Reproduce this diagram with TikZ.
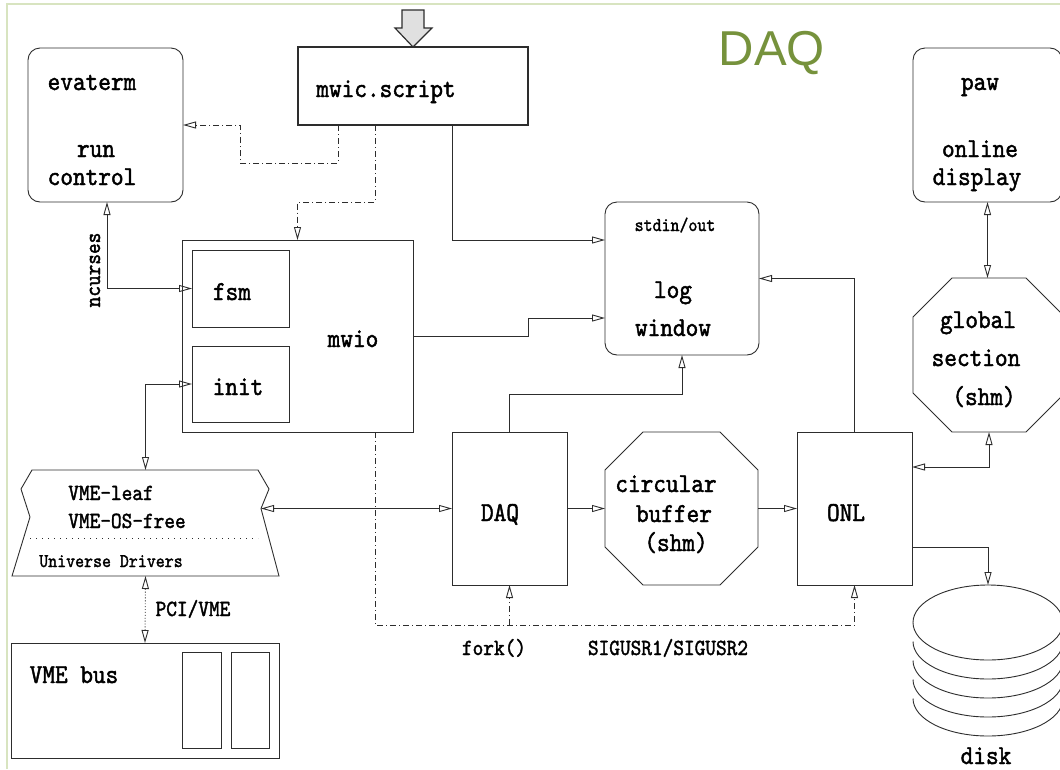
\documentclass[tikz,border=0pt]{standalone}
\usepackage{fontspec}
\newfontfamily\figfont[FakeStretch=0.88,FakeBold=1.6]{lmmono10-regular.otf}
\newfontfamily\headfont{Liberation Sans}
\usetikzlibrary{arrows.meta,positioning,shapes.geometric}
\definecolor{frameline}{RGB}{216,228,192}
\definecolor{olive}{RGB}{118,146,60}
\definecolor{wire}{RGB}{45,45,45}
\tikzset{
  >={Triangle[open,length=13pt,width=7pt]},
  line/.style={draw=wire,line width=0.9pt},
  blk/.style={line,outer sep=0pt,inner sep=0pt},
  rblk/.style={blk,rounded corners=12pt},
  hidden/.style={outer sep=0pt,inner sep=0pt},
  txt/.style={font=\figfont\fontsize{27.4}{29}\selectfont,inner sep=0pt,anchor=base},
  midtxt/.style={txt,font=\figfont\fontsize{23.1}{25}\selectfont},
  smltxt/.style={txt,font=\figfont\fontsize{19.4}{21}\selectfont},
  flow/.style={line,->},
  both/.style={line,<->},
  sig/.style={line,->,dash pattern=on 6pt off 3pt on 1pt off 3pt},
}
% octagon drawn round a hidden node: #1 node, #2 corner cut
\newcommand{\octa}[2]{%
  \draw[line] ([xshift=#2]#1.north west) -- ([xshift=-#2]#1.north east)
    -- ([yshift=-#2]#1.north east) -- ([yshift=#2]#1.south east)
    -- ([xshift=-#2]#1.south east) -- ([xshift=#2]#1.south west)
    -- ([yshift=#2]#1.south west) -- ([yshift=-#2]#1.north west) -- cycle;}

\begin{document}
\begin{tikzpicture}[x=1pt,y=-1pt]
  \useasboundingbox (0,0) rectangle (1060,769);
  \draw[frameline,line width=2pt] (7,769) -- (7,4) -- (1060,4);
  \node[font=\headfont\fontsize{49}{50}\selectfont,text=olive,inner sep=0pt,anchor=base] (title) at (772,65) {DAQ};

  % boxes
  \node[rblk,minimum width=155pt,minimum height=154pt] (evaterm) at (105.5,125) {};
  \node[blk,line width=2pt,minimum width=230pt,minimum height=78pt] (mwic) at (413,86) {};
  \node[rblk,minimum width=149pt,minimum height=154pt] (paw) at (987.5,125) {};
  \node[rblk,minimum width=154pt,minimum height=153pt] (stdin) at (682,278.5) {};
  \node[blk,minimum width=231pt,minimum height=192pt] (mwio) at (297.5,336) {};
  \node[blk,minimum width=97pt,minimum height=77pt] (fsm) at (240.5,288.5) {};
  \node[blk,minimum width=97pt,minimum height=76pt] (init) at (240.5,384) {};
  \node[hidden,minimum width=152pt,minimum height=154pt] (glob) at (989,355) {};
  \node[blk,minimum width=115pt,minimum height=153pt] (daq) at (509.5,508.5) {};
  \node[hidden,minimum width=153pt,minimum height=153pt] (buf) at (681.5,508.5) {};
  \node[blk,minimum width=115pt,minimum height=153pt] (onl) at (854.5,508.5) {};
  \node[hidden,minimum width=267pt,minimum height=106pt] (leaf) at (145.5,523) {};
  \node[blk,minimum width=268pt,minimum height=115pt] (vmebus) at (145,700.5) {};
  \node[blk,minimum width=39pt,minimum height=96pt] (slotA) at (201.5,700) {};
  \node[blk,minimum width=38pt,minimum height=96pt] (slotB) at (250,700) {};
  \node[blk,ellipse,minimum width=150pt,minimum height=75pt] (disk) at (988,622.5) {};
  \coordinate (leafnotch) at (261,508.5);

  \octa{glob}{39pt}
  \octa{buf}{38pt}
  \draw[line] (32,470) -- (258,470) -- (269,489) -- (leafnotch) -- (279,576)
    -- (12,576) -- (30,517) -- (21,489) -- cycle;
  \draw[line,dash pattern=on 1pt off 5pt] (30,538) -- (258,538);
  \foreach \k in {1,...,4}
    \draw[line] ([yshift={-19pt*\k}]disk.west) arc[start angle=180,end angle=360,x radius=75pt,y radius=37.5pt];
  \draw[line,line width=1.2pt,fill=black!12] (402,10) -- (424,10) -- (424,28) -- (432,28)
    -- (mwic.north) -- (395,28) -- (402,28) -- cycle;

  % texts
  \node[txt] (t1) at (92,90) {evaterm};
  \node[txt] (t2) at (96,157) {run};
  \node[txt] (t3) at (92,185) {control};
  \node[txt] (t4) at (386,97) {mwic.script};
  \node[txt] (t5) at (980,90) {paw};
  \node[txt] (t6) at (980,157) {online};
  \node[txt] (t7) at (977,185) {display};
  \node[smltxt] (t8) at (675,231) {stdin/out};
  \node[txt] (t9) at (673,298) {log};
  \node[txt] (t10) at (673,336) {window};
  \node[txt] (t11) at (232,300) {fsm};
  \node[txt] (t12) at (238,395) {init};
  \node[txt] (t13) at (353,347) {mwio};
  \node[midtxt,rotate=90] (t14) at (100,270) {ncurses};
  \node[txt] (t15) at (978,328) {global};
  \node[txt] (t16) at (976,366) {section};
  \node[txt] (t17) at (984,405) {(shm)};
  \node[txt] (t18) at (666,492) {circular};
  \node[txt] (t19) at (674,522) {buffer};
  \node[txt] (t20) at (676,551) {(shm)};
  \node[txt] (t21) at (500,521) {DAQ};
  \node[txt] (t22) at (846,521) {ONL};
  \node[midtxt] (t23) at (111,500) {VME-leaf};
  \node[midtxt] (t24) at (127,528) {VME-OS-free};
  \node[smltxt] (t25) at (111,567) {Universe Drivers};
  \node[midtxt] (t26) at (193,616) {PCI/VME};
  \node[txt] (t27) at (74,683) {VME bus};
  \node[midtxt] (t28) at (494,655) {fork()};
  \node[midtxt] (t29) at (668,655) {SIGUSR1/SIGUSR2};
  \node[txt] (t30) at (986,764) {disk};

  % connectors
  \draw[sig] ([xshift=40pt]mwic.south west) |- (240,163) |- (evaterm.east);
  \draw[sig] ([xshift=77pt]mwic.south west) -- ++(0,77) -| (mwio.north);
  \draw[flow] ([xshift=154pt]mwic.south west) |- ([yshift=38.5pt]stdin.west);
  \draw[both] ([xshift=1.5pt]evaterm.south) |- (fsm.west);
  \draw[both] (leaf.north) |- (init.west);
  \draw[flow] (mwio.east) -- ++(115,0) |- ([yshift=-39.5pt]stdin.west);
  \draw[flow] (daq.north) -- ++(0,-38) -| (stdin.south);
  \draw[flow] (onl.north) |- (stdin.east);
  \draw[flow] (daq.east) -- (buf.west);
  \draw[flow] (buf.east) -- (onl.west);
  \draw[both] (leafnotch) -- (daq.west);
  \draw[both] (glob.south) |- ([yshift=41.5pt]onl.east);
  \draw[flow] ([yshift=-38.5pt]onl.east) -| (disk.north);
  \draw[both] (paw.south) -- (paw.south |- glob.north);
  \draw[sig] ([xshift=193pt]mwio.south west) -- ++(0,193) -| (onl.south);
  \draw[sig] (daq.south) ++(0,40) -- (daq.south);
  \draw[both,dotted] (leaf.south) -- (vmebus.north);
\end{tikzpicture}
\end{document}
